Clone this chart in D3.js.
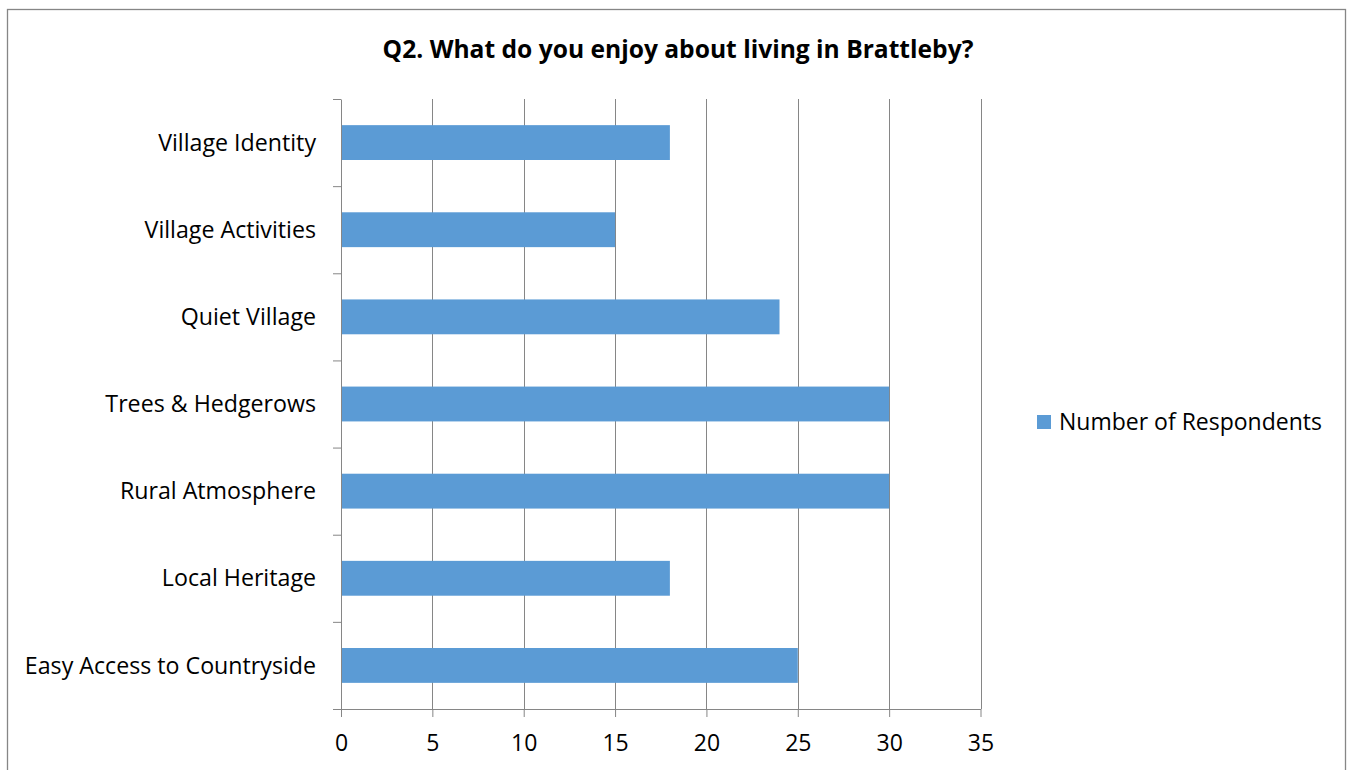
<!DOCTYPE html>
<html>
<head>
<meta charset="utf-8">
<script src="https://cdn.jsdelivr.net/npm/d3@7"></script>
<style>
  body { margin: 0; background: #fff; }
  text { font-family: "Open Sans", sans-serif; fill: #000; }
</style>
</head>
<body>
<div id="chart"></div>
<script>
const categories = [
  "Village Identity",
  "Village Activities",
  "Quiet Village",
  "Trees & Hedgerows",
  "Rural Atmosphere",
  "Local Heritage",
  "Easy Access to Countryside"
];
const respondents = [18, 15, 24, 30, 30, 18, 25];
const xTicks = [0, 5, 10, 15, 20, 25, 30, 35];
const seriesName = "Number of Respondents";
const title = "Q2. What do you enjoy about living in Brattleby?";

const width = 1351, height = 770;
const plot = { left: 341, right: 980.5, top: 99, bottom: 709 };
const grey = "#868686";
const barColor = "#5B9BD5";

const svg = d3.select("#chart").append("svg")
  .attr("width", width).attr("height", height);

// outer chart border
svg.append("rect")
  .attr("x", 7.5).attr("y", 9.5)
  .attr("width", 1338).attr("height", 800)
  .attr("fill", "none").attr("stroke", grey).attr("stroke-width", 1.3);

svg.append("text")
  .attr("x", 678).attr("y", 58)
  .attr("text-anchor", "middle")
  .style("font-weight", "bold").style("font-size", "24.6px")
  .text(title);

const x = d3.scaleLinear().domain([0, 35]).range([plot.left, plot.right]);
const y = d3.scaleBand().domain(categories).range([plot.top, plot.bottom]).paddingInner(0.6).paddingOuter(0.3);
const yEdge = d3.scaleLinear().domain([0, categories.length]).range([plot.top, plot.bottom]);

// vertical gridlines
svg.append("g").selectAll("line")
  .data(xTicks.slice(1))
  .join("line")
  .attr("x1", d => Math.round(x(d)) + 0.5).attr("x2", d => Math.round(x(d)) + 0.5)
  .attr("y1", plot.top).attr("y2", plot.bottom)
  .attr("stroke", grey).attr("stroke-width", 1);

// bars
svg.append("g").selectAll("rect")
  .data(categories)
  .join("rect")
  .attr("x", x(0))
  .attr("y", d => y(d))
  .attr("width", (d, i) => x(respondents[i]) - x(0))
  .attr("height", y.bandwidth())
  .attr("fill", barColor);

// x axis
const xAxis = svg.append("g")
  .attr("transform", `translate(0,${plot.bottom})`)
  .call(d3.axisBottom(x).tickValues(xTicks).tickSize(8).tickSizeOuter(0).tickPadding(18));
xAxis.select(".domain").attr("stroke", grey);
xAxis.selectAll(".tick line").attr("stroke", grey);
xAxis.selectAll(".tick text").style("font-size", "23px").attr("fill", "#000");

// y axis with ticks at category boundaries
const yAxis = svg.append("g")
  .attr("transform", `translate(${plot.left},0)`)
  .call(d3.axisLeft(yEdge).ticks(categories.length).tickSize(8).tickSizeOuter(0).tickFormat(""));
yAxis.select(".domain").attr("stroke", grey);
yAxis.selectAll(".tick line").attr("stroke", grey);

// category labels
svg.append("g").selectAll("text")
  .data(categories)
  .join("text")
  .attr("x", 316)
  .attr("y", d => y(d) + y.bandwidth() / 2)
  .attr("dy", "0.35em")
  .attr("text-anchor", "end")
  .style("font-size", "23.2px")
  .text(d => d);

// legend
const legend = svg.append("g").attr("transform", "translate(1037,415)");
legend.append("rect").attr("width", 14).attr("height", 14).attr("fill", barColor);
legend.append("text").attr("x", 22).attr("y", 7).attr("dy", "0.35em")
  .style("font-size", "23px").text(seriesName);
</script>
</body>
</html>
